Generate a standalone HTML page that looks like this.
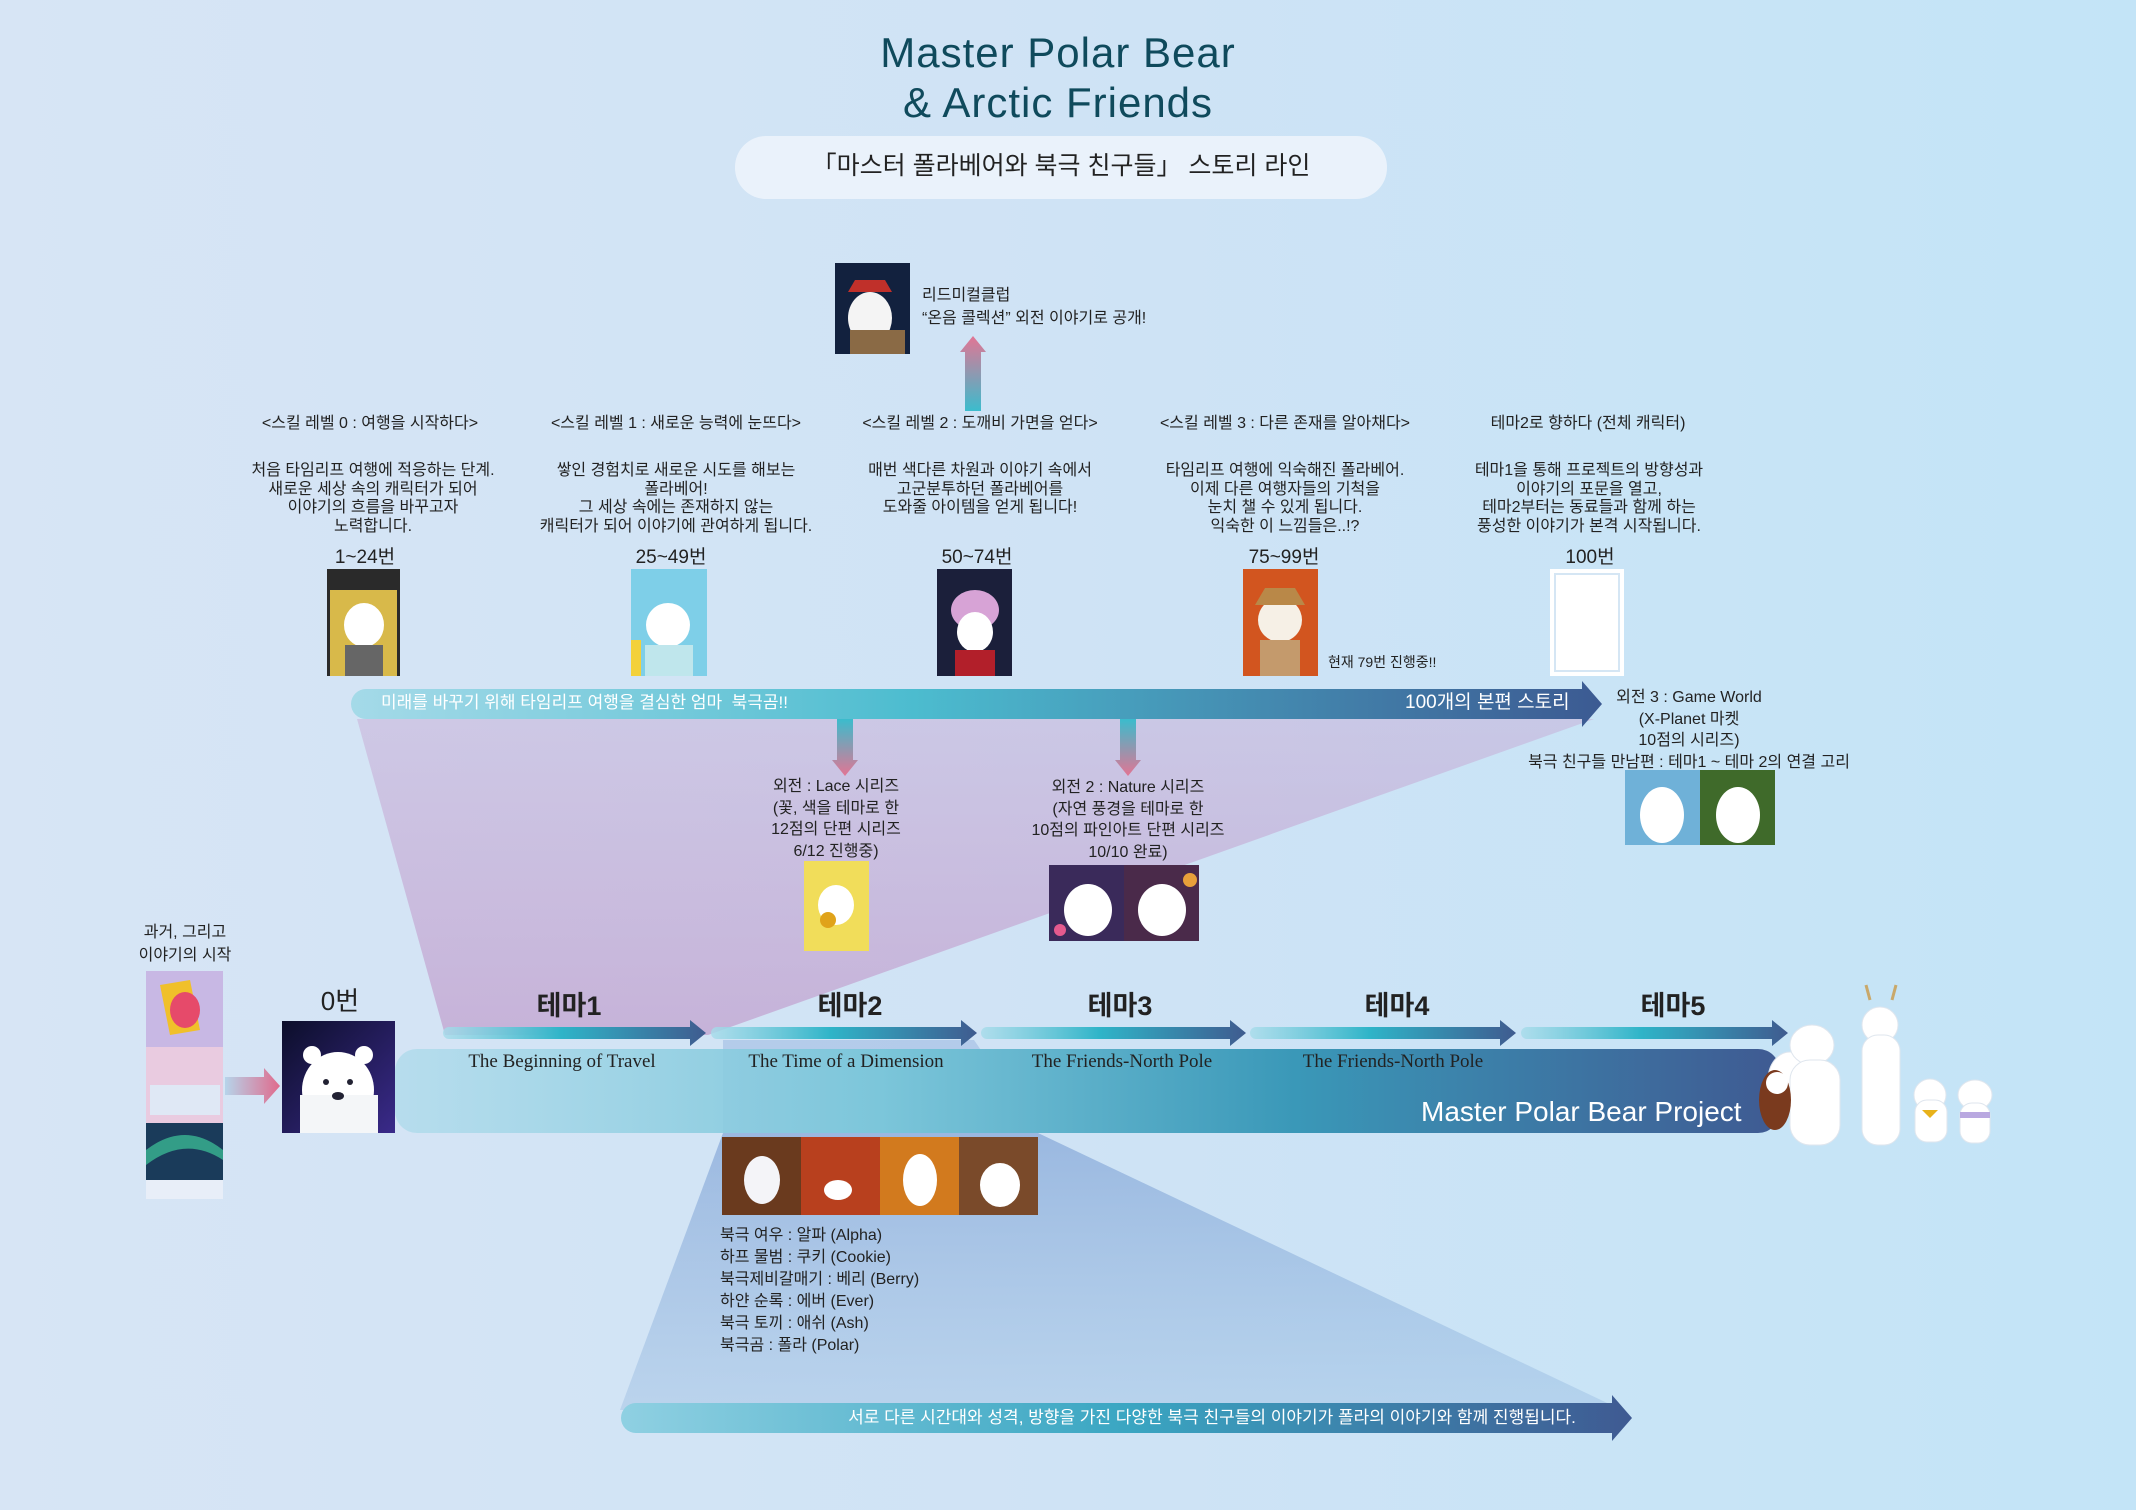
<!DOCTYPE html>
<html><head><meta charset="utf-8">
<style>
*{margin:0;padding:0;box-sizing:border-box}
body{width:2136px;height:1510px;overflow:hidden;position:relative;background:linear-gradient(90deg,#d7e5f5 0%,#cfe3f5 50%,#c3e4f7 100%);font-family:"Liberation Sans","Noto Sans CJK KR",sans-serif;color:#222}
svg{position:absolute;left:0;top:0}
.t{position:absolute;white-space:nowrap;line-height:1}
.c{transform:translateX(-50%);text-align:center}
.k{font-family:"Liberation Sans","Noto Sans CJK KR",sans-serif}
.desc{font-size:16px;line-height:18.7px}
.num{font-size:19px}
.theme{font-size:27px;font-weight:bold}
.sub{font-family:"Liberation Serif","Noto Serif CJK SC",serif;font-size:19px;color:#222}
</style></head><body>
<svg width="2136" height="1510" viewBox="0 0 2136 1510">
<defs>
<linearGradient id="arr" x1="0" x2="1"><stop offset="0" stop-color="#a7dcea" stop-opacity=".8"/><stop offset=".45" stop-color="#2fb4c8"/><stop offset="1" stop-color="#3f5b8f"/></linearGradient>
<linearGradient id="top" x1="0" x2="1"><stop offset="0" stop-color="#9cd8e6" stop-opacity=".85"/><stop offset=".45" stop-color="#4cbccf"/><stop offset="1" stop-color="#3c5a92"/></linearGradient>
<linearGradient id="band" x1="0" x2="1"><stop offset="0" stop-color="#a3d8e8" stop-opacity=".6"/><stop offset=".35" stop-color="#7cc6da"/><stop offset=".65" stop-color="#3a98b8"/><stop offset="1" stop-color="#3f5a92"/></linearGradient>
<linearGradient id="bot" x1="0" x2="1"><stop offset="0" stop-color="#8fd0e2"/><stop offset=".5" stop-color="#3aa6c2"/><stop offset="1" stop-color="#3f5a92"/></linearGradient>
<linearGradient id="purp" x1="0" y1="0" x2="0" y2="1"><stop offset="0" stop-color="#c6a6d2" stop-opacity=".45"/><stop offset="1" stop-color="#c2a2cf" stop-opacity=".75"/></linearGradient>
<linearGradient id="blu" x1="0" y1="0" x2="0" y2="1"><stop offset="0" stop-color="#6f95cf" stop-opacity=".55"/><stop offset="1" stop-color="#8fb5dd" stop-opacity=".35"/></linearGradient>
<linearGradient id="up" x1="0" y1="0" x2="0" y2="1"><stop offset="0" stop-color="#e27594"/><stop offset="1" stop-color="#3bbccd"/></linearGradient>
<linearGradient id="dn" x1="0" y1="0" x2="0" y2="1"><stop offset="0" stop-color="#3bbccd"/><stop offset="1" stop-color="#e27594"/></linearGradient>
<linearGradient id="pk" x1="0" x2="1"><stop offset="0" stop-color="#b6d4ea"/><stop offset="1" stop-color="#e06a8c"/></linearGradient>
<linearGradient id="night" x1="0" y1="0" x2="1" y2="1"><stop offset="0" stop-color="#0c0e2a"/><stop offset="1" stop-color="#3a2a8a"/></linearGradient>
</defs>
<!-- pill -->
<rect x="735" y="136" width="652" height="63" rx="31" fill="#eef5fc" opacity=".85"/>
<!-- purple trapezoid -->
<polygon points="357,719 1594,719 708,1035 445,1035" fill="url(#purp)"/>
<!-- blue trapezoid -->
<polygon points="723,1133 1038,1133 1622,1410 620,1410" fill="url(#blu)"/>
<polygon points="723,1040 974,1040 1038,1133 723,1133" fill="#6f95cf" opacity=".3"/>
<!-- big band -->
<rect x="395" y="1049" width="1385" height="84" rx="22" fill="url(#band)"/>
<!-- top arrow -->
<path d="M366 689 H1582 V681 L1602 704 L1582 727 V719 H366 A15 15 0 0 1 366 689 Z" fill="url(#top)"/>
<!-- bottom arrow -->
<path d="M636 1403 H1612 V1395 L1632 1418 L1612 1441 V1433 H636 A15 15 0 0 1 636 1403 Z" fill="url(#bot)"/>
<!-- theme arrows -->
<g fill="url(#arr)">
<path d="M449 1027 H690 V1020 L706 1033 L690 1046 V1039 H449 A6 6 0 0 1 449 1027Z"/>
<path d="M717 1027 H961 V1020 L977 1033 L961 1046 V1039 H717 A6 6 0 0 1 717 1027Z"/>
<path d="M987 1027 H1230 V1020 L1246 1033 L1230 1046 V1039 H987 A6 6 0 0 1 987 1027Z"/>
<path d="M1256 1027 H1500 V1020 L1516 1033 L1500 1046 V1039 H1256 A6 6 0 0 1 1256 1027Z"/>
<path d="M1527 1027 H1772 V1020 L1788 1033 L1772 1046 V1039 H1527 A6 6 0 0 1 1527 1027Z"/>
</g>
<!-- up arrow -->
<path d="M965 411 V352 H960 L973 336 L986 352 H981 V411 Z" fill="url(#up)"/>
<!-- down arrows -->
<path d="M837 719 V760 H832 L845 776 L858 760 H853 V719Z" fill="url(#dn)"/>
<path d="M1120 719 V760 H1115 L1128 776 L1141 760 H1136 V719Z" fill="url(#dn)"/>
<!-- pink right arrow -->
<path d="M225 1077 H264 V1068 L280 1086 L264 1104 V1095 H225Z" fill="url(#pk)"/>
<!-- 리드미컬 poster -->
<rect x="835" y="263" width="75" height="91" fill="#12213e"/>
<ellipse cx="870" cy="318" rx="22" ry="26" fill="#f4f4f4"/><rect x="850" y="330" width="55" height="24" fill="#8a6a45"/><path d="M848 292 L892 292 L885 280 L855 280Z" fill="#c0302a"/>
<!-- posters row -->
<rect x="327" y="569" width="73" height="107" fill="#2a2a2a"/><rect x="330" y="590" width="67" height="86" fill="#d8b94a"/><ellipse cx="364" cy="625" rx="20" ry="22" fill="#fff"/><rect x="345" y="645" width="38" height="31" fill="#666"/>
<rect x="631" y="569" width="76" height="107" fill="#7ecfe8"/><ellipse cx="668" cy="625" rx="22" ry="22" fill="#fff"/><rect x="645" y="645" width="48" height="31" fill="#bfe6ec"/><rect x="631" y="640" width="10" height="36" fill="#f3d13a"/>
<rect x="937" y="569" width="75" height="107" fill="#1b1f3a"/><ellipse cx="975" cy="610" rx="24" ry="20" fill="#d7a3d6"/><ellipse cx="975" cy="632" rx="18" ry="20" fill="#fff"/><rect x="955" y="650" width="40" height="26" fill="#b21f2a"/>
<rect x="1243" y="569" width="75" height="107" fill="#d2551f"/><ellipse cx="1280" cy="620" rx="22" ry="22" fill="#f6f0e6"/><path d="M1255 605 L1305 605 L1295 588 L1265 588Z" fill="#b98848"/><rect x="1260" y="640" width="40" height="36" fill="#c49a6c"/>
<rect x="1550" y="569" width="74" height="107" fill="#fff"/><rect x="1555" y="574" width="64" height="97" fill="none" stroke="#d5e6f4" stroke-width="2"/>
<!-- Lace poster -->
<rect x="804" y="861" width="65" height="90" fill="#f1dd5a"/><ellipse cx="836" cy="905" rx="18" ry="20" fill="#fff"/><circle cx="828" cy="920" r="8" fill="#e0a31a"/>
<!-- Nature posters -->
<rect x="1049" y="865" width="75" height="76" fill="#3a2a5a"/><rect x="1124" y="865" width="75" height="76" fill="#4a2a4a"/>
<ellipse cx="1088" cy="910" rx="24" ry="26" fill="#fff"/><ellipse cx="1162" cy="910" rx="24" ry="26" fill="#fff"/>
<circle cx="1060" cy="930" r="6" fill="#e45a8e"/><circle cx="1190" cy="880" r="7" fill="#e8a03a"/>
<!-- Game world -->
<rect x="1625" y="770" width="75" height="75" fill="#6fb1d8"/><rect x="1700" y="770" width="75" height="75" fill="#3f6a2a"/>
<ellipse cx="1662" cy="815" rx="22" ry="28" fill="#fff"/><ellipse cx="1738" cy="815" rx="22" ry="28" fill="#fff"/>
<!-- left column images -->
<rect x="146" y="971" width="77" height="76" fill="#c8b8e4"/><path d="M160 985 L190 980 L200 1030 L170 1035Z" fill="#f0c02a"/><ellipse cx="185" cy="1010" rx="15" ry="18" fill="#e64a6a"/>
<rect x="146" y="1047" width="77" height="76" fill="#e9cbe0"/><rect x="150" y="1085" width="70" height="30" fill="#dfe8f5"/>
<rect x="146" y="1123" width="77" height="76" fill="#1a3b5a"/><path d="M146 1150 Q185 1120 223 1150 L223 1160 Q185 1135 146 1165Z" fill="#3ec89a" opacity=".7"/><rect x="146" y="1180" width="77" height="19" fill="#e8eef8"/>
<!-- 0번 poster -->
<rect x="282" y="1021" width="113" height="112" fill="url(#night)"/>
<ellipse cx="338" cy="1090" rx="36" ry="38" fill="#fff"/><rect x="300" y="1095" width="78" height="38" fill="#f4f6f8"/>
<circle cx="312" cy="1055" r="9" fill="#fff"/><circle cx="364" cy="1055" r="9" fill="#fff"/>
<circle cx="326" cy="1082" r="3" fill="#223"/><circle cx="350" cy="1082" r="3" fill="#223"/><ellipse cx="338" cy="1096" rx="6" ry="4" fill="#223"/>
<!-- theme2 strip -->
<rect x="722" y="1137" width="79" height="78" fill="#6a3a1e"/><rect x="801" y="1137" width="79" height="78" fill="#b8401e"/><rect x="880" y="1137" width="79" height="78" fill="#d27a1e"/><rect x="959" y="1137" width="79" height="78" fill="#7a4a2a"/>
<ellipse cx="762" cy="1180" rx="18" ry="24" fill="#f4f4f8"/><ellipse cx="838" cy="1190" rx="14" ry="10" fill="#fff"/><ellipse cx="920" cy="1180" rx="17" ry="26" fill="#fff"/><ellipse cx="1000" cy="1185" rx="20" ry="22" fill="#fff"/>
<!-- characters right -->
<g fill="#fff" stroke="#dfe6ee" stroke-width="1">
<ellipse cx="1790" cy="1080" rx="22" ry="28"/><ellipse cx="1812" cy="1045" rx="22" ry="20"/><rect x="1790" y="1060" width="50" height="85" rx="20"/>
<ellipse cx="1880" cy="1025" rx="18" ry="18"/><rect x="1862" y="1035" width="38" height="110" rx="16"/>
<ellipse cx="1930" cy="1095" rx="16" ry="16"/><rect x="1915" y="1100" width="32" height="42" rx="12"/>
<ellipse cx="1975" cy="1095" rx="17" ry="15"/><rect x="1960" y="1103" width="30" height="40" rx="12"/>
</g>
<ellipse cx="1775" cy="1100" rx="16" ry="30" fill="#7a3a1e"/><ellipse cx="1777" cy="1083" rx="11" ry="11" fill="#fff"/>
<path d="M1870 1000 L1866 985 M1892 1000 L1896 985" stroke="#c9a86a" stroke-width="3"/>
<rect x="1960" y="1112" width="30" height="6" fill="#b9a8e0"/><path d="M1922 1110 L1938 1110 L1930 1118Z" fill="#e8b21a"/>
</svg>

<div class="t c" style="left:1058px;top:32px;font-size:42px;color:#0f4a5c;letter-spacing:1px">Master Polar Bear</div>
<div class="t c" style="left:1058px;top:82px;font-size:42px;color:#0f4a5c;letter-spacing:1px">&amp; Arctic Friends</div>
<div class="t c k" style="left:1061px;top:154px;font-size:25px;color:#222">「마스터 폴라베어와 북극 친구들」 스토리 라인</div>

<div class="t k" style="left:922px;top:288px;font-size:16px">리드미컬클럽</div>
<div class="t k" style="left:922px;top:311px;font-size:16px">“온음 콜렉션” 외전 이야기로 공개!</div>

<div class="t c k" style="left:370px;top:416px;font-size:16px">&lt;스킬 레벨 0 : 여행을 시작하다&gt;</div>
<div class="t c k" style="left:676px;top:416px;font-size:16px">&lt;스킬 레벨 1 : 새로운 능력에 눈뜨다&gt;</div>
<div class="t c k" style="left:980px;top:416px;font-size:16px">&lt;스킬 레벨 2 : 도깨비 가면을 얻다&gt;</div>
<div class="t c k" style="left:1285px;top:416px;font-size:16px">&lt;스킬 레벨 3 : 다른 존재를 알아채다&gt;</div>
<div class="t c k" style="left:1588px;top:416px;font-size:16px">테마2로 향하다 (전체 캐릭터)</div>

<div class="t c k desc" style="left:373px;top:462px">처음 타임리프 여행에 적응하는 단계.<br>새로운 세상 속의 캐릭터가 되어<br>이야기의 흐름을 바꾸고자<br>노력합니다.</div>
<div class="t c k desc" style="left:676px;top:462px">쌓인 경험치로 새로운 시도를 해보는<br>폴라베어!<br>그 세상 속에는 존재하지 않는<br>캐릭터가 되어 이야기에 관여하게 됩니다.</div>
<div class="t c k desc" style="left:980px;top:462px">매번 색다른 차원과 이야기 속에서<br>고군분투하던 폴라베어를<br>도와줄 아이템을 얻게 됩니다!</div>
<div class="t c k desc" style="left:1285px;top:462px">타임리프 여행에 익숙해진 폴라베어.<br>이제 다른 여행자들의 기척을<br>눈치 챌 수 있게 됩니다.<br>익숙한 이 느낌들은..!?</div>
<div class="t c k desc" style="left:1589px;top:462px">테마1을 통해 프로젝트의 방향성과<br>이야기의 포문을 열고,<br>테마2부터는 동료들과 함께 하는<br>풍성한 이야기가 본격 시작됩니다.</div>

<div class="t c k num" style="left:365px;top:548px">1~24번</div>
<div class="t c k num" style="left:671px;top:548px">25~49번</div>
<div class="t c k num" style="left:977px;top:548px">50~74번</div>
<div class="t c k num" style="left:1284px;top:548px">75~99번</div>
<div class="t c k num" style="left:1590px;top:548px">100번</div>
<div class="t k" style="left:1328px;top:655px;font-size:14px">현재 79번 진행중!!</div>

<div class="t k" style="left:381px;top:694px;font-size:17px;color:#fff">미래를 바꾸기 위해 타임리프 여행을 결심한 엄마 &nbsp;북극곰!!</div>
<div class="t k" style="left:1405px;top:693px;font-size:19px;color:#fff">100개의 본편 스토리</div>

<div class="t c k" style="left:836px;top:776px;font-size:16px;line-height:21.5px">외전 : Lace 시리즈<br>(꽃, 색을 테마로 한<br>12점의 단편 시리즈<br>6/12 진행중)</div>
<div class="t c k" style="left:1128px;top:777px;font-size:16px;line-height:21.5px">외전 2 : Nature 시리즈<br>(자연 풍경을 테마로 한<br>10점의 파인아트 단편 시리즈<br>10/10 완료)</div>
<div class="t c k" style="left:1689px;top:687px;font-size:16px;line-height:21.7px">외전 3 : Game World<br>(X-Planet 마켓<br>10점의 시리즈)<br>북극 친구들 만남편 : 테마1 ~ 테마 2의 연결 고리</div>

<div class="t c k" style="left:185px;top:921px;font-size:16px;line-height:23px">과거, 그리고<br>이야기의 시작</div>
<div class="t c k" style="left:340px;top:988px;font-size:26px">0번</div>

<div class="t c k theme" style="left:569px;top:993px">테마1</div>
<div class="t c k theme" style="left:850px;top:993px">테마2</div>
<div class="t c k theme" style="left:1120px;top:993px">테마3</div>
<div class="t c k theme" style="left:1397px;top:993px">테마4</div>
<div class="t c k theme" style="left:1673px;top:993px">테마5</div>

<div class="t c sub" style="left:562px;top:1052px">The Beginning of Travel</div>
<div class="t c sub" style="left:846px;top:1052px">The Time of a Dimension</div>
<div class="t c sub" style="left:1122px;top:1052px">The Friends-North Pole</div>
<div class="t c sub" style="left:1393px;top:1052px">The Friends-North Pole</div>
<div class="t" style="left:1421px;top:1098px;font-size:28px;color:#fff">Master Polar Bear Project</div>

<div class="t k" style="left:720px;top:1225px;font-size:16px;line-height:22px">북극 여우 : 알파 (Alpha)<br>하프 물범 : 쿠키 (Cookie)<br>북극제비갈매기 : 베리 (Berry)<br>하얀 순록 : 에버 (Ever)<br>북극 토끼 : 애쉬 (Ash)<br>북극곰 : 폴라 (Polar)</div>

<div class="t c k" style="left:1212px;top:1409px;font-size:17px;color:#fff">서로 다른 시간대와 성격, 방향을 가진 다양한 북극 친구들의 이야기가 폴라의 이야기와 함께 진행됩니다.</div>
</body></html>
